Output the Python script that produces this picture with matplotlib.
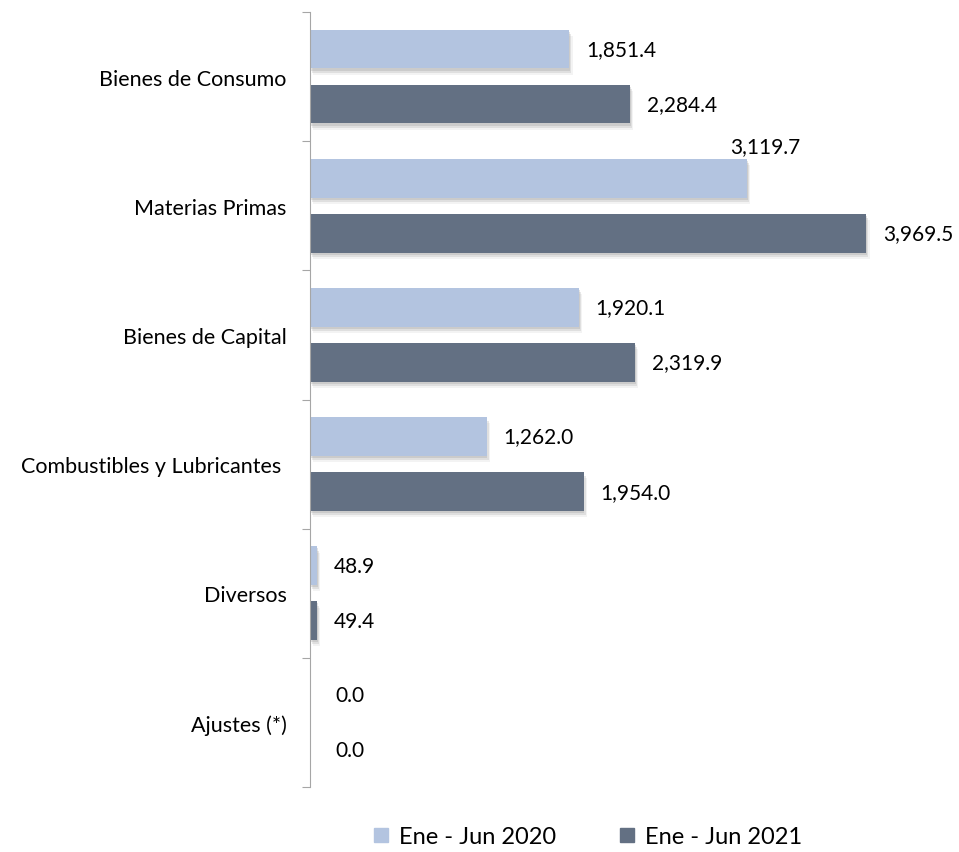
import numpy as np
import matplotlib
matplotlib.use('Agg')
import matplotlib.pyplot as plt
import matplotlib.patheffects as pe
from matplotlib.lines import Line2D

plt.rcParams['font.family'] = ['Lato', 'DejaVu Sans']

# Data
categories = ['Bienes de Consumo', 'Materias Primas', 'Bienes de Capital',
              'Combustibles y Lubricantes ', 'Diversos', 'Ajustes (*)']
values_2020 = [1851.4, 3119.7, 1920.1, 1262.0, 48.9, 0.0]
values_2021 = [2284.4, 3969.5, 2319.9, 1954.0, 49.4, 0.0]
series_names = ['Ene - Jun 2020', 'Ene - Jun 2021']

color_2020 = '#B3C4E0'
color_2021 = '#637083'

fig = plt.figure(figsize=(9.59, 8.53), dpi=100)
ax = fig.add_axes([310 / 959, 65 / 853, 620 / 959, 775 / 853])

y = np.arange(len(categories))
bar_h = 0.30
off = 0.213

# soft drop shadow, built from a few stacked offsets
shadow = [pe.SimplePatchShadow(offset=(0.5, -1.5), shadow_rgbFace='#909090', alpha=0.25),
          pe.SimplePatchShadow(offset=(1.5, -3), shadow_rgbFace='#909090', alpha=0.2),
          pe.SimplePatchShadow(offset=(2.5, -4.5), shadow_rgbFace='#A0A0A0', alpha=0.12),
          pe.Normal()]

bars1 = ax.barh(y - off, values_2020, height=bar_h, color=color_2020, linewidth=0)
bars2 = ax.barh(y + off, values_2021, height=bar_h, color=color_2021, linewidth=0)
for b in list(bars1) + list(bars2):
    if b.get_width() > 0:
        b.set_path_effects(shadow)

ax.set_xlim(0, 620 / ((630 - 310) / 2284.4))
ax.set_ylim(len(categories) - 0.5, -0.5)

# value labels
lbl_size = 15
for i, v in enumerate(values_2020):
    if i == 1:
        # this label sits above the bar end
        ax.annotate(f'{v:,.1f}', xy=(v, i - off - bar_h / 2), xytext=(13, 2),
                    textcoords='offset points', ha='center', va='bottom', fontsize=lbl_size)
    else:
        ax.annotate(f'{v:,.1f}', xy=(v, i - off), xytext=(12 if v > 0 else 18, 0),
                    textcoords='offset points', ha='left', va='center', fontsize=lbl_size)
for i, v in enumerate(values_2021):
    ax.annotate(f'{v:,.1f}', xy=(v, i + off), xytext=(12 if v > 0 else 18, 0),
                textcoords='offset points', ha='left', va='center', fontsize=lbl_size)

# axes styling
for s in ['top', 'right', 'bottom']:
    ax.spines[s].set_visible(False)
ax.spines['left'].set_color('#A6A6A6')
ax.set_xticks([])
ax.set_yticks(np.arange(len(categories) + 1) - 0.5)
ax.set_yticklabels([])
ax.tick_params(axis='y', which='major', length=6, color='#A6A6A6')
ax.set_yticks(y, minor=True)
ax.set_yticklabels(categories, minor=True, fontsize=15.5)
ax.tick_params(axis='y', which='minor', length=0, pad=17)

handles = [Line2D([], [], marker='s', linestyle='none', markersize=10, color=color_2020),
           Line2D([], [], marker='s', linestyle='none', markersize=10, color=color_2021)]
fig.legend(handles, series_names, loc='center', bbox_to_anchor=(0.612, 0.018), ncol=2,
           frameon=False, fontsize=17, handletextpad=0.35, columnspacing=2.6, handlelength=0.8)

fig.savefig('out.png', dpi=100)
